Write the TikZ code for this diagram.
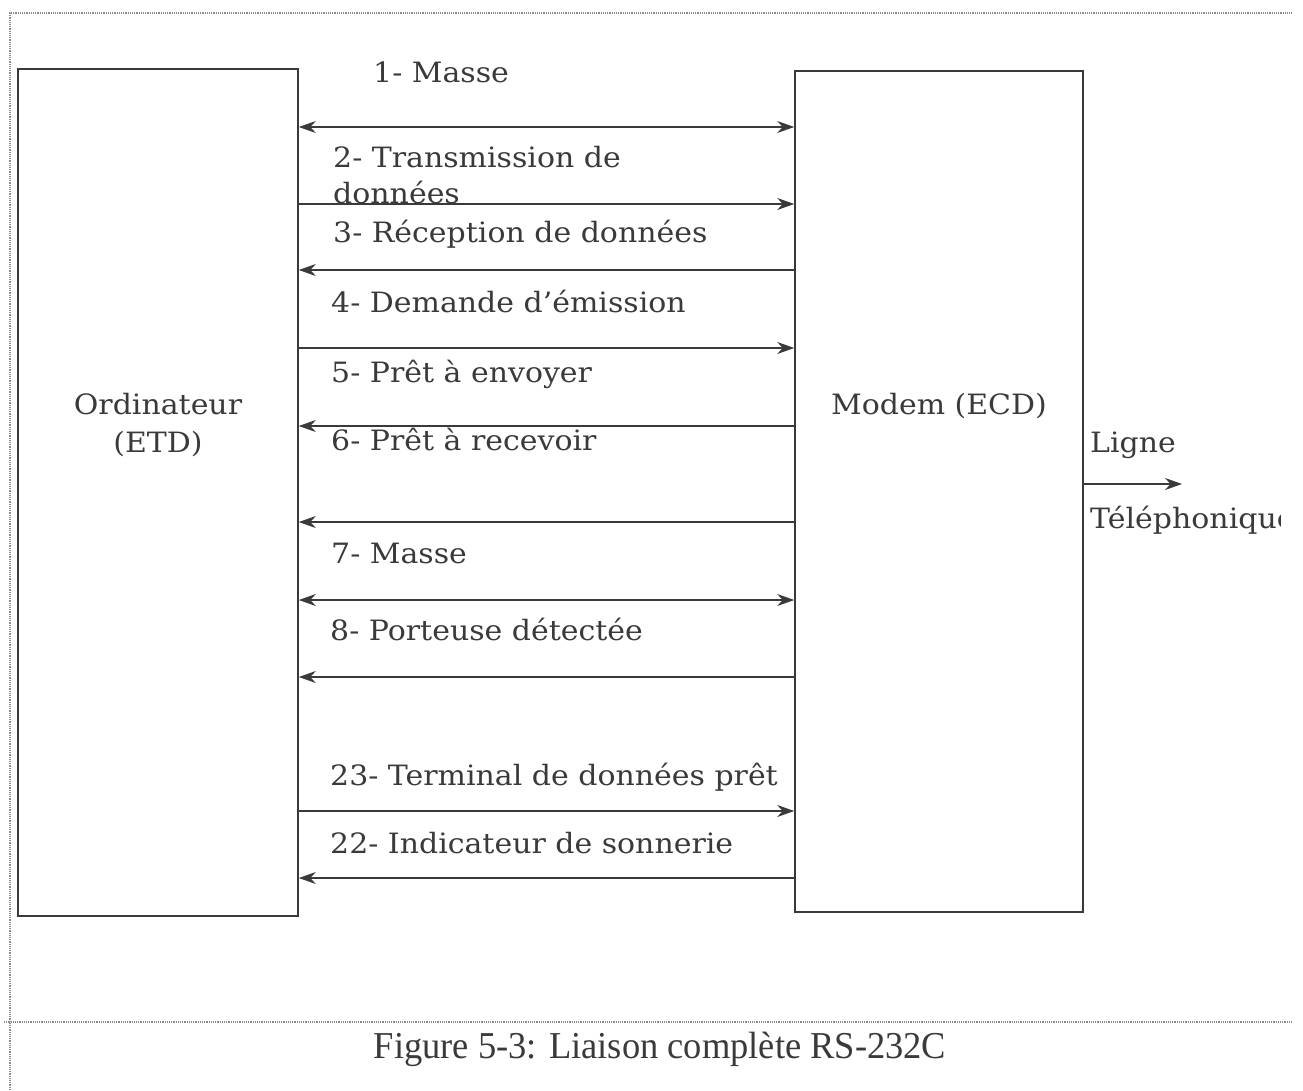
\documentclass[tikz,border=0pt]{standalone}
\usepackage{fontspec}
\setmainfont{DejaVu Serif}
\newfontfamily\capfont{Liberation Serif}
\usetikzlibrary{arrows.meta}
\definecolor{ink}{HTML}{3A3A3A}
\definecolor{frame}{HTML}{8A8A8A}
\tikzset{
  unit/.style={draw=ink, line width=1.6pt, minimum width=#1, inner sep=0pt},
  sig/.style={draw=ink, line width=1.4pt},
  tip/.style={-{Stealth[length=17pt,width=12pt]}},
  tiptwo/.style={{Stealth[length=17pt,width=12pt]}-{Stealth[length=17pt,width=12pt]}},
  txt/.style={inner sep=0pt, text=ink, xscale=1.07, font=\fontsize{28}{32}\selectfont},
  lbl/.style={txt, anchor=base west},
  boxtxt/.style={txt, anchor=base},
  border/.style={draw=frame, line width=1.2pt, densely dotted}
}
\begin{document}
\begin{tikzpicture}[x=1pt,y=-1pt]
\useasboundingbox[fill=white] (0,0) rectangle (1303,1090);

% page frame
\draw[border] (10,1090) -- (10,13) -- (1292,13);
\draw[border] (4,1022) -- (1292,1022);

% the two units
\node[unit=280pt, minimum height=847pt] (etd) at (158,492.5) {};
\node[unit=288pt, minimum height=841pt] (ecd) at (939,491.5) {};
\node[boxtxt] (etdA) at (158,414) {Ordinateur};
\node[boxtxt] (etdB) at (158,452) {(ETD)};
\node[boxtxt] (ecdA) at (939,414) {Modem (ECD)};

% interface lines
\draw[sig,tiptwo] (etd.east |- 0,127) -- (ecd.west |- 0,127);
\draw[sig,tip] (etd.east |- 0,204) -- (ecd.west |- 0,204);
\draw[sig,tip] (ecd.west |- 0,270) -- (etd.east |- 0,270);
\draw[sig,tip] (etd.east |- 0,348) -- (ecd.west |- 0,348);
\draw[sig,tip] (ecd.west |- 0,426) -- (etd.east |- 0,426);
\draw[sig,tip] (ecd.west |- 0,522) -- (etd.east |- 0,522);
\draw[sig,tiptwo] (etd.east |- 0,600) -- (ecd.west |- 0,600);
\draw[sig,tip] (ecd.west |- 0,677) -- (etd.east |- 0,677);
\draw[sig,tip] (etd.east |- 0,811) -- (ecd.west |- 0,811);
\draw[sig,tip] (ecd.west |- 0,878) -- (etd.east |- 0,878);

% signal names
\node[lbl] (s1) at (373,82) {1- Masse};
\node[lbl] (s2) at (333,167) {2- Transmission de};
\node[lbl] (s2b) at (333,203) {données};
\node[lbl] (s3) at (333,242) {3- Réception de données};
\node[lbl] (s4) at (331,312) {4- Demande d’émission};
\node[lbl] (s5) at (331,382) {5- Prêt à envoyer};
\node[lbl] (s6) at (331,450) {6- Prêt à recevoir};
\node[lbl] (s7) at (331,563) {7- Masse};
\node[lbl] (s8) at (330,640) {8- Porteuse détectée};
\node[lbl] (s23) at (330,785) {23- Terminal de données prêt};
\node[lbl] (s22) at (330,853) {22- Indicateur de sonnerie};

% line to the telephone network
\coordinate (tel) at (1182,484);
\draw[sig,tip] (ecd.east |- tel) -- (tel);
\node[lbl] (ligne) at (1090,452) {Ligne};
\begin{scope}
  \clip (1085,490) rectangle (1280,560);
  \node[lbl] (telA) at (1090,528) {Téléphonique};
\end{scope}

% caption
\node[anchor=base, inner sep=0pt, text=ink, font=\capfont\fontsize{38}{42}\selectfont, xscale=0.96] (cap) at (660,1058) {Figure 5-3: Liaison complète RS-232C};
\end{tikzpicture}
\end{document}
